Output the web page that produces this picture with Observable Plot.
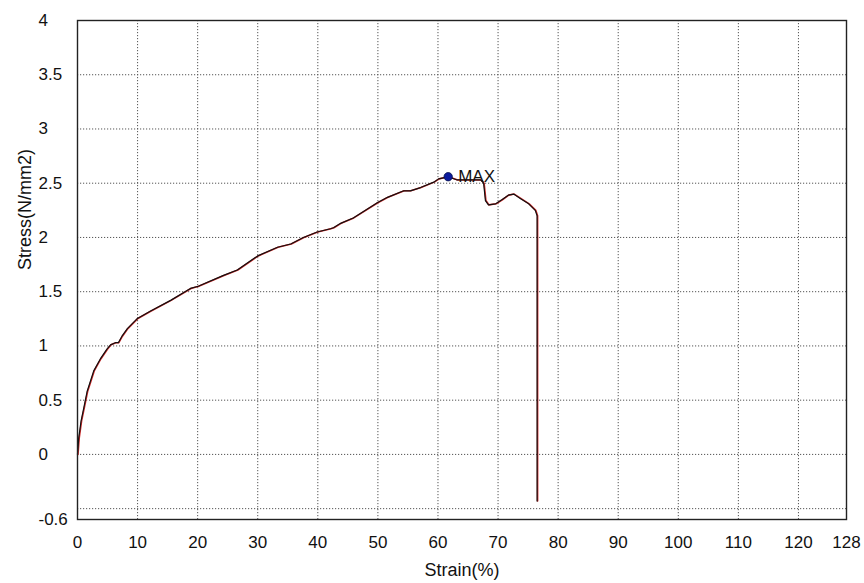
<!DOCTYPE html>
<html>
<head>
<meta charset="utf-8">
<script src="https://cdn.jsdelivr.net/npm/d3@7"></script>
<script src="https://cdn.jsdelivr.net/npm/@observablehq/plot@0.6"></script>
<style>
  html, body { margin: 0; padding: 0; background: #fff; }
  #chart svg { display: block; }
</style>
</head>
<body>
<div id="chart"></div>
<script>
// Strain (%) and Stress (N/mm2)
const strain = [0, 0.2, 0.6, 1.05, 1.6, 2.7, 3.8, 4.9, 5.5, 6.3, 6.8, 7.4, 8.3, 9.9, 12.1, 15.5, 18.8, 20.1, 24.3, 26.6, 30, 33.3, 35.5, 37.6, 39.9, 42.1, 42.6, 43.8, 45.9, 49.9, 51.6, 54.3, 55.4, 57.1, 59.3, 60.1, 60.9, 61.7, 63.2, 65.4, 67.1, 67.6, 67.9, 68.4, 69.6, 70.7, 71.7, 72.6, 73.7, 75.1, 76.2, 76.5, 76.5];
const stress = [0, 0.15, 0.31, 0.43, 0.58, 0.77, 0.88, 0.97, 1.01, 1.03, 1.03, 1.09, 1.16, 1.25, 1.32, 1.42, 1.53, 1.55, 1.65, 1.70, 1.83, 1.91, 1.94, 2.00, 2.05, 2.08, 2.09, 2.13, 2.18, 2.32, 2.37, 2.43, 2.43, 2.46, 2.51, 2.54, 2.55, 2.56, 2.53, 2.53, 2.53, 2.50, 2.34, 2.30, 2.31, 2.35, 2.39, 2.40, 2.36, 2.31, 2.25, 2.20, -0.43];

const maxStrain = [61.7];
const maxStress = [2.56];
const maxLabel = ["MAX"];

const xTicks = [0, 10, 20, 30, 40, 50, 60, 70, 80, 90, 100, 110, 120, 128];
const xGrid = [10, 20, 30, 40, 50, 60, 70, 80, 90, 100, 110, 120];
const yTicks = [-0.6, 0, 0.5, 1, 1.5, 2, 2.5, 3, 3.5, 4];
const yGrid = [-0.5, 0, 0.5, 1, 1.5, 2, 2.5, 3, 3.5];

const xTitle = "Strain(%)";
const yTitle = "Stress(N/mm2)";

const curve = strain.map((s, i) => ({strain: s, stress: stress[i]}));
const maxPt = maxStrain.map((s, i) => ({strain: s, stress: maxStress[i], label: maxLabel[i]}));

const font = "'Liberation Sans', Arial, sans-serif";

const chart = Plot.plot({
  width: 864,
  height: 583,
  marginLeft: 77,
  marginRight: 18,
  marginTop: 20,
  marginBottom: 64,
  style: {fontFamily: font, background: "#fff", color: "#111"},
  x: {domain: [0, 128], axis: null},
  y: {domain: [-0.6, 4], axis: null},
  marks: [
    Plot.ruleX(xGrid, {stroke: "#555", strokeWidth: 1, strokeDasharray: "1.2,1.8"}),
    Plot.ruleY(yGrid, {stroke: "#555", strokeWidth: 1, strokeDasharray: "1.2,1.8"}),
    Plot.line(curve, {x: "strain", y: "stress", stroke: "#d42a2a", strokeWidth: 1.6, dx: 0.5}),
    Plot.line(curve, {x: "strain", y: "stress", stroke: "#111", strokeWidth: 1.2}),
    Plot.dot(maxPt, {x: "strain", y: "stress", r: 4.2, fill: "#0c1a9c", stroke: "#06104a", strokeWidth: 0.8}),
    Plot.text(maxPt, {x: "strain", y: "stress", text: "label", textAnchor: "start", dx: 10, dy: 0, fontSize: 17, fill: "#111"}),
    Plot.frame({stroke: "#222", strokeWidth: 1.4}),
    Plot.text(yTicks, {frameAnchor: "left", y: d => d, text: d => String(d), textAnchor: "start", dx: -39, fontSize: 17, fill: "#111"}),
    Plot.text(xTicks, {frameAnchor: "bottom", x: d => d, text: d => String(d), textAnchor: "middle", lineAnchor: "middle", dy: 23, fontSize: 17, fill: "#111"}),
    Plot.text([xTitle], {frameAnchor: "bottom", text: d => d, lineAnchor: "middle", dy: 51, fontSize: 18, fill: "#111"}),
    Plot.text([yTitle], {frameAnchor: "left", text: d => d, rotate: -90, lineAnchor: "middle", dx: -52, fontSize: 18, fill: "#111"})
  ]
});

document.getElementById("chart").appendChild(chart);
</script>
</body>
</html>
